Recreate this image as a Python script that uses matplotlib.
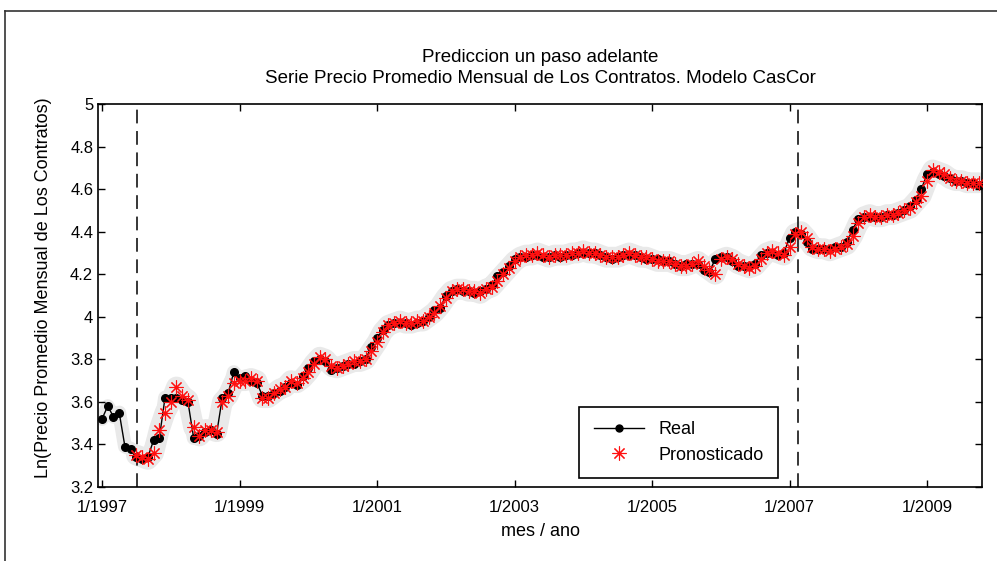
import numpy as np
import matplotlib
matplotlib.use('Agg')
import matplotlib.pyplot as plt
from matplotlib.lines import Line2D

plt.rcParams['font.family'] = ['Liberation Sans', 'DejaVu Sans']

# serie real, un valor por mes desde 1/1997
real = [3.52, 3.58, 3.53, 3.55, 3.39, 3.38, 3.34, 3.33, 3.34, 3.42,
        3.43, 3.62, 3.62, 3.62, 3.61, 3.60, 3.43, 3.44, 3.46, 3.47,
        3.45, 3.62, 3.64, 3.74, 3.71, 3.72, 3.70, 3.69, 3.63, 3.63,
        3.64, 3.65, 3.67, 3.69, 3.68, 3.72, 3.76, 3.79, 3.80, 3.79,
        3.75, 3.76, 3.77, 3.78, 3.78, 3.79, 3.80, 3.86, 3.90, 3.94,
        3.96, 3.97, 3.97, 3.97, 3.96, 3.97, 3.98, 4.00, 4.03, 4.04,
        4.10, 4.12, 4.13, 4.12, 4.12, 4.11, 4.12, 4.13, 4.15, 4.19,
        4.21, 4.24, 4.27, 4.28, 4.28, 4.29, 4.29, 4.28, 4.28, 4.29,
        4.28, 4.29, 4.29, 4.30, 4.30, 4.30, 4.30, 4.29, 4.28, 4.27,
        4.28, 4.29, 4.29, 4.29, 4.28, 4.27, 4.27, 4.27, 4.26, 4.26,
        4.25, 4.24, 4.25, 4.25, 4.25, 4.22, 4.21, 4.27, 4.28, 4.28,
        4.26, 4.24, 4.24, 4.24, 4.25, 4.29, 4.30, 4.30, 4.29, 4.30,
        4.37, 4.40, 4.39, 4.35, 4.32, 4.32, 4.32, 4.32, 4.33, 4.33,
        4.35, 4.41, 4.46, 4.47, 4.47, 4.47, 4.47, 4.48, 4.48, 4.49,
        4.50, 4.52, 4.55, 4.60, 4.67, 4.68, 4.67, 4.66, 4.65, 4.64,
        4.64, 4.63, 4.63, 4.62]

# pronostico un paso adelante, desde el mes 6
inicio_pron = 6
pron = [3.35, 3.34, 3.33, 3.36, 3.47, 3.55, 3.60, 3.67, 3.63, 3.61,
        3.48, 3.44, 3.47, 3.47, 3.46, 3.60, 3.63, 3.69, 3.70, 3.70,
        3.71, 3.70, 3.62, 3.62, 3.64, 3.66, 3.67, 3.70, 3.69, 3.71,
        3.74, 3.78, 3.81, 3.80, 3.77, 3.76, 3.77, 3.78, 3.79, 3.79,
        3.80, 3.84, 3.88, 3.93, 3.96, 3.97, 3.98, 3.97, 3.97, 3.98,
        3.98, 4.00, 4.02, 4.05, 4.09, 4.12, 4.13, 4.13, 4.12, 4.12,
        4.11, 4.13, 4.14, 4.17, 4.20, 4.23, 4.26, 4.28, 4.29, 4.29,
        4.30, 4.29, 4.28, 4.29, 4.29, 4.29, 4.30, 4.30, 4.31, 4.30,
        4.30, 4.29, 4.28, 4.28, 4.28, 4.29, 4.30, 4.29, 4.28, 4.28,
        4.27, 4.26, 4.26, 4.26, 4.25, 4.24, 4.24, 4.25, 4.26, 4.24,
        4.22, 4.20, 4.27, 4.28, 4.27, 4.25, 4.24, 4.23, 4.24, 4.27,
        4.30, 4.31, 4.30, 4.29, 4.33, 4.39, 4.40, 4.37, 4.33, 4.32,
        4.32, 4.31, 4.32, 4.33, 4.34, 4.38, 4.44, 4.47, 4.48, 4.47,
        4.47, 4.48, 4.48, 4.49, 4.50, 4.51, 4.54, 4.57, 4.64, 4.69,
        4.68, 4.67, 4.65, 4.64, 4.64, 4.63, 4.63, 4.63]

tick_meses = [0, 24, 48, 72, 96, 120, 144]
tick_labels = ['1/1997', '1/1999', '1/2001', '1/2003', '1/2005', '1/2007', '1/2009']
cortes = [6.1, 121.4]  # lineas verticales de division

x_real = np.arange(len(real))
x_pron = np.arange(inicio_pron, inicio_pron + len(pron))

fig = plt.figure(figsize=(9.97, 5.61), dpi=100)
ax = fig.add_axes([0.0983, 0.1319, 0.8867, 0.6827])

# halo gris
ax.plot(x_pron, pron, color='#e9e9e9', lw=15, solid_capstyle='round', solid_joinstyle='round', zorder=1)
ax.plot(x_real, real, color='#e9e9e9', lw=10, solid_capstyle='round', solid_joinstyle='round', zorder=1)

for c in cortes:
    ax.axvline(c, color='k', lw=1.1, linestyle=(0, (9, 5)), zorder=2)

ax.plot(x_real, real, color='k', lw=1.0, marker='o', ms=5.5, zorder=3)
ax.plot(x_pron, pron, linestyle='none', marker=(8, 2, 0), ms=10, mew=0.8, color='#ff1010', zorder=4)

ax.set_xlim(-0.7, 153.6)
ax.set_ylim(3.2, 5.0)
ax.set_xticks(tick_meses)
ax.set_xticklabels(tick_labels)
ax.set_yticks(np.arange(3.2, 5.01, 0.2))
ax.set_yticklabels(['3.2', '3.4', '3.6', '3.8', '4', '4.2', '4.4', '4.6', '4.8', '5'])
ax.tick_params(direction='in', top=True, right=True, length=5, width=1.0, labelsize=12, colors='k')
ax.tick_params(axis='x', pad=9)
for sp in ax.spines.values():
    sp.set_linewidth(1.2)

ax.set_title('Prediccion un paso adelante\nSerie Precio Promedio Mensual de Los Contratos. Modelo CasCor',
             fontsize=13.5, pad=15, linespacing=1.3)
ax.set_xlabel('mes / ano', fontsize=13, labelpad=6)
ax.set_ylabel('Ln(Precio Promedio Mensual de Los Contratos)', fontsize=13)
ax.yaxis.set_label_coords(-0.052, 0.52)

handles = [Line2D([], [], color='k', lw=1.0, marker='o', ms=5, mew=1.0),
           Line2D([], [], linestyle='none', marker=(8, 2, 0), ms=10, mew=0.8, color='#ff1010')]
leg = ax.legend(handles, ['Real', 'Pronosticado'], loc='lower left', bbox_to_anchor=(0.534, 0.0),
                fontsize=13, fancybox=False, framealpha=1, edgecolor='k', borderpad=0.8,
                handlelength=2.8, labelspacing=0.45)
leg.get_frame().set_linewidth(1.2)

# marco exterior
fig.add_artist(Line2D([0.005, 1.0], [1 - 11 / 561, 1 - 11 / 561], color='#333333', lw=1.2, transform=fig.transFigure))
fig.add_artist(Line2D([0.005, 0.005], [0, 1 - 11 / 561], color='#333333', lw=1.2, transform=fig.transFigure))

fig.savefig('out.png', dpi=100)
